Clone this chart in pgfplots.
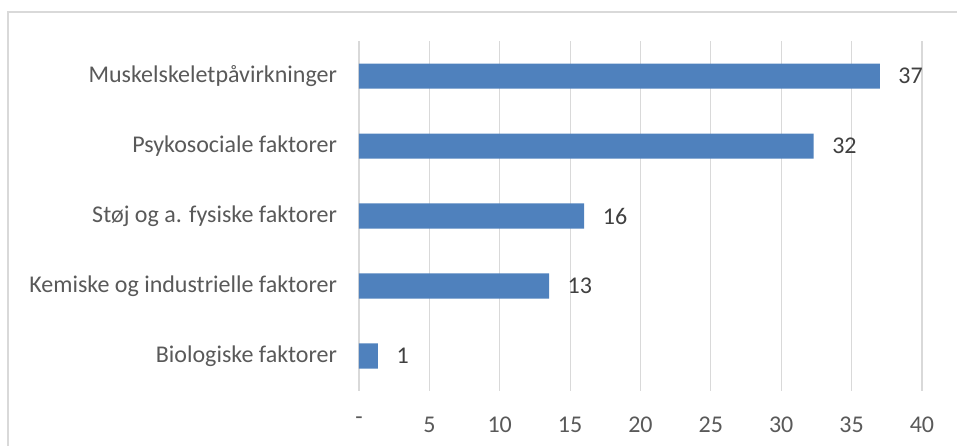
\documentclass[border=0pt]{standalone}
\usepackage{fontspec}
\setmainfont{Carlito}
\usepackage{pgfplots}
\pgfplotsset{compat=1.18}
\definecolor{barblue}{HTML}{4F81BD}
\definecolor{gridgray}{HTML}{D9D9D9}
\definecolor{txtgray}{HTML}{595959}
\definecolor{valgray}{HTML}{404040}
\begin{document}
\begin{tikzpicture}[x=1pt,y=1pt]
\useasboundingbox (-269.25,-41.25) rectangle (448.5,293.25);
\draw[gridgray, line width=1.1pt] (-263.25,-60) -- (-263.25,284.25) -- (470,284.25);
\begin{axis}[
  at={(0,0)}, anchor=south west,
  scale only axis,
  width=422.25pt, height=262.5pt,
  xmin=0, xmax=40,
  ymin=-0.5, ymax=4.5,
  axis line style={draw=none},
  xmajorgrids, grid style={gridgray, line width=0.8pt},
  major tick length=0pt,
  xtick={0,5,...,40},
  xticklabels={-,5,10,15,20,25,30,35,40},
  ytick={0,1,2,3,4},
  yticklabels={Biologiske faktorer,Kemiske og industrielle faktorer,Støj og a. fysiske faktorer,Psykosociale faktorer,Muskelskeletpåvirkninger},
  tick label style={font=\fontsize{18}{21}\selectfont, text=txtgray},
  xticklabel style={yshift=-16pt},
  yticklabel style={xshift=-13pt},
  xbar, bar width=18.75pt,
  nodes near coords,
  point meta=explicit symbolic,
  nodes near coords style={font=\fontsize{18}{21}\selectfont, text=valgray, anchor=west, xshift=10.5pt},
  clip=false,
]
\addplot[fill=barblue, draw=none] table[x=v, y=c, meta=l] {
c v l
0 1.35 1
1 13.5 13
2 16.0 16
3 32.3 32
4 37.0 37
};
\end{axis}
\end{tikzpicture}
\end{document}
